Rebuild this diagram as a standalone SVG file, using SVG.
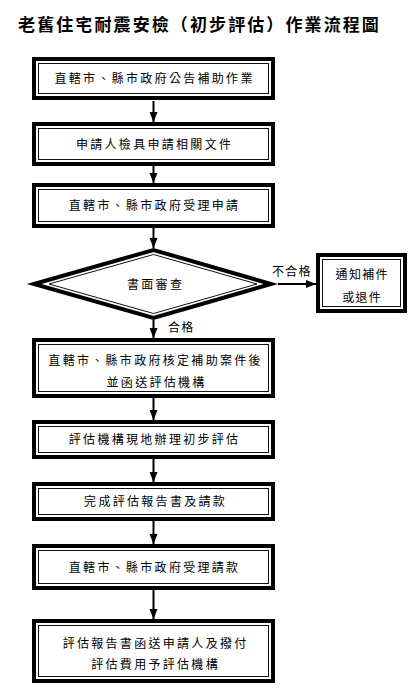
<svg xmlns="http://www.w3.org/2000/svg" width="415" height="695" viewBox="0 0 415 695">
<style>
.outer{fill:#fff;stroke:#000;stroke-width:4}
.inner{fill:none;stroke:#111;stroke-width:1}
.t{font-family:"Noto Sans CJK TC","Liberation Serif",sans-serif;font-size:12px;letter-spacing:2.3px;fill:#000;text-anchor:middle}
.lbl{font-family:"Noto Sans CJK TC","Liberation Serif",sans-serif;font-size:12px;letter-spacing:1.3px;fill:#000}
.title{font-family:"Noto Sans CJK TC","Liberation Serif",sans-serif;font-size:17px;font-weight:bold;letter-spacing:2.1px;fill:#000;text-anchor:middle}
.c{stroke:#000;stroke-width:2;fill:none;marker-end:url(#ah)}
</style>
<defs>
<marker id="ah" markerUnits="userSpaceOnUse" markerWidth="10" markerHeight="10" viewBox="0 0 10 10" refX="10" refY="5" orient="auto">
<path d="M0,1 L10,5 L0,9 Z" fill="#000"/>
</marker>
</defs>
<rect width="415" height="695" fill="#fff"/>
<text class="title" x="199.5" y="31">老舊住宅耐震安檢（初步評估）作業流程圖</text>

<g id="connectors">
<line class="c" x1="153.5" y1="101" x2="153.5" y2="122"/>
<line class="c" x1="153.5" y1="166" x2="153.5" y2="183"/>
<line class="c" x1="153.5" y1="228" x2="153.5" y2="248"/>
<line class="c" x1="153.5" y1="320" x2="153.5" y2="338"/>
<line class="c" x1="153.5" y1="398" x2="153.5" y2="420"/>
<line class="c" x1="153.5" y1="459" x2="153.5" y2="482"/>
<line class="c" x1="153.5" y1="521" x2="153.5" y2="544"/>
<line class="c" x1="153.5" y1="590" x2="153.5" y2="619"/>
<line class="c" x1="278" y1="284" x2="316" y2="284"/>
<text class="lbl" x="272" y="276">不合格</text>
<text class="lbl" x="168" y="332">合格</text>
</g>

<g id="n1">
<rect class="outer" x="34" y="59" width="239" height="39"/>
<rect class="inner" x="38.5" y="63.5" width="230" height="30"/>
<text class="t" x="154.6" y="83">直轄市、縣市政府公告補助作業</text>
</g>
<g id="n2">
<rect class="outer" x="34" y="124" width="239" height="40"/>
<rect class="inner" x="38.5" y="128.5" width="230" height="31"/>
<text class="t" x="154.6" y="148.5">申請人檢具申請相關文件</text>
</g>
<g id="n3">
<rect class="outer" x="34" y="185" width="239" height="41"/>
<rect class="inner" x="38.5" y="189.5" width="230" height="32"/>
<text class="t" x="154.6" y="210">直轄市、縣市政府受理申請</text>
</g>
<g id="n4">
<polygon class="outer" stroke-width="4.5" points="34,284 153.5,250 271,284 153.5,318"/>
<polygon class="inner" points="49,284 153.5,254.5 257,284 153.5,313.5"/>
<text class="t" x="155.6" y="288.5">書面審查</text>
</g>
<g id="n5">
<rect class="outer" x="318" y="255" width="87" height="56"/>
<rect class="inner" x="322.5" y="259.5" width="78" height="47"/>
<text class="t" x="362.2" y="279" style="letter-spacing:1.3px">通知補件</text>
<text class="t" x="362.2" y="302" style="letter-spacing:1.3px">或退件</text>
</g>
<g id="n6">
<rect class="outer" x="34" y="340" width="239" height="56"/>
<rect class="inner" x="38.5" y="344.5" width="230" height="47"/>
<text class="t" x="155.6" y="364.5">直轄市、縣市政府核定補助案件後</text>
<text class="t" x="156.6" y="386.5">並函送評估機構</text>
</g>
<g id="n7">
<rect class="outer" x="34" y="422" width="239" height="35"/>
<rect class="inner" x="38.5" y="426.5" width="230" height="26"/>
<text class="t" x="154.6" y="444">評估機構現地辦理初步評估</text>
</g>
<g id="n8">
<rect class="outer" x="34" y="484" width="239" height="35"/>
<rect class="inner" x="38.5" y="488.5" width="230" height="26"/>
<text class="t" x="155.6" y="506">完成評估報告書及請款</text>
</g>
<g id="n9">
<rect class="outer" x="34" y="546" width="239" height="42"/>
<rect class="inner" x="38.5" y="550.5" width="230" height="33"/>
<text class="t" x="154.6" y="571.5">直轄市、縣市政府受理請款</text>
</g>
<g id="n10">
<rect class="outer" x="34" y="621" width="239" height="60"/>
<rect class="inner" x="38.5" y="625.5" width="230" height="51"/>
<text class="t" x="155.6" y="647.5">評估報告書函送申請人及撥付</text>
<text class="t" x="155.6" y="668.5">評估費用予評估機構</text>
</g>
</svg>
